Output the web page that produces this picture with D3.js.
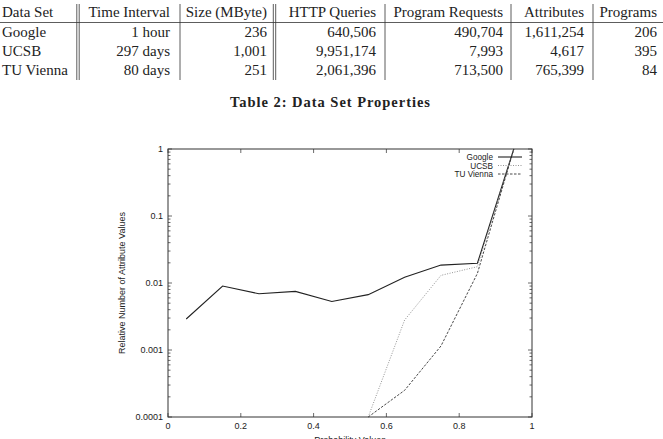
<!DOCTYPE html>
<html lang="en">
<head>
  <meta charset="UTF-8">
  <title>Data Set Properties</title>
  <script src="https://d3js.org/d3.v7.min.js"></script>
  <style>
    html, body { margin: 0; padding: 0; background: #fff; }
    .cell { font-family: "Liberation Serif", serif; font-size: 15px; fill: #222; }
    .caption { font-family: "Liberation Serif", serif; font-size: 14.5px; font-weight: bold; fill: #222; }
    .tick-label, .axis-title { font-family: "Liberation Sans", Arial, sans-serif; font-size: 9px; fill: #222; }
    .legend text { font-family: "Liberation Sans", Arial, sans-serif; font-size: 8.2px; fill: #222; }
  </style>
</head>
<body>
  <div id="chart"></div>
  <script>
    // Table contents
    const headers = ["Data Set", "Time Interval", "Size (MByte)", "HTTP Queries", "Program Requests", "Attributes", "Programs"];
    const dataSets = ["Google", "UCSB", "TU Vienna"];
    const timeIntervals = ["1 hour", "297 days", "80 days"];
    const sizes = ["236", "1,001", "251"];
    const httpQueries = ["640,506", "9,951,174", "2,061,396"];
    const programRequests = ["490,704", "7,993", "713,500"];
    const attributes = ["1,611,254", "4,617", "765,399"];
    const programs = ["206", "395", "84"];

    // Plot data
    const probabilities = [0.05, 0.15, 0.25, 0.35, 0.45, 0.55, 0.65, 0.75, 0.85, 0.95];
    const google = [0.0029, 0.0090, 0.0069, 0.0075, 0.0053, 0.0067, 0.0122, 0.0185, 0.0197, 1];
    const ucsb = [null, null, null, null, null, 0.0001, 0.0028, 0.0130, 0.0175, 1];
    const tuVienna = [null, null, null, null, null, 0.0001, 0.00025, 0.00115, 0.0139, 1];
    const seriesNames = ["Google", "UCSB", "TU Vienna"];
    const xTicks = [0, 0.2, 0.4, 0.6, 0.8, 1];
    const yTicks = [0.0001, 0.001, 0.01, 0.1, 1];

    const width = 663;
    const height = 439;

    const svg = d3.select("#chart")
      .append("svg")
      .attr("width", width)
      .attr("height", height);

    // ---- Table ----
    const colRight = [null, 170, 267, 376, 503, 584, 657];
    const colLeft = 2;
    const rowY = [17, 37, 56, 75];
    const singleLines = [180, 385, 511, 593];
    const doubleLines = [78, 274.5];
    const columns = [dataSets, timeIntervals, sizes, httpQueries, programRequests, attributes, programs];

    const table = svg.append("g");
    headers.forEach((h, i) => {
      table.append("text")
        .attr("class", "cell")
        .attr("x", i === 0 ? colLeft : colRight[i])
        .attr("y", rowY[0])
        .attr("text-anchor", i === 0 ? "start" : "end")
        .text(h);
    });
    columns.forEach((col, i) => {
      col.forEach((v, r) => {
        table.append("text")
          .attr("class", "cell")
          .attr("x", i === 0 ? colLeft : colRight[i])
          .attr("y", rowY[r + 1])
          .attr("text-anchor", i === 0 ? "start" : "end")
          .text(v);
      });
    });
    table.append("line")
      .attr("x1", 0).attr("x2", 663)
      .attr("y1", 22.5).attr("y2", 22.5)
      .attr("stroke", "#333").attr("stroke-width", 0.8);
    singleLines.forEach(x => {
      table.append("line")
        .attr("x1", x).attr("x2", x).attr("y1", 4).attr("y2", 80)
        .attr("stroke", "#333").attr("stroke-width", 0.8);
    });
    doubleLines.forEach(x => {
      [x - 1.2, x + 1.2].forEach(xx => {
        table.append("line")
          .attr("x1", xx).attr("x2", xx).attr("y1", 4).attr("y2", 80)
          .attr("stroke", "#333").attr("stroke-width", 0.8);
      });
    });
    table.append("text")
      .attr("class", "caption")
      .attr("x", 330)
      .attr("y", 107)
      .attr("text-anchor", "middle")
      .attr("textLength", 200)
      .attr("lengthAdjust", "spacing")
      .text("Table 2:  Data Set Properties");

    // ---- Plot ----
    const margin = { left: 168, right: 532, top: 149, bottom: 417 };

    const xScale = d3.scaleLinear().domain([0, 1]).range([margin.left, margin.right]);
    const yScale = d3.scaleLog().domain([0.0001, 1]).range([margin.bottom, margin.top]);

    const plot = svg.append("g");

    // Ticks (inward, on all sides)
    const minorY = [];
    for (let e = -4; e < 0; e++) {
      for (let m = 2; m <= 9; m++) minorY.push(m * Math.pow(10, e));
    }
    minorY.forEach(v => {
      [[margin.left, 2.5], [margin.right, -2.5]].forEach(([x, d]) => {
        plot.append("line")
          .attr("x1", x).attr("x2", x + d)
          .attr("y1", yScale(v)).attr("y2", yScale(v))
          .attr("stroke", "#444").attr("stroke-width", 0.8);
      });
    });
    yTicks.forEach(v => {
      [[margin.left, 4], [margin.right, -4]].forEach(([x, d]) => {
        plot.append("line")
          .attr("x1", x).attr("x2", x + d)
          .attr("y1", yScale(v)).attr("y2", yScale(v))
          .attr("stroke", "#444").attr("stroke-width", 0.8);
      });
      plot.append("text")
        .attr("class", "tick-label")
        .attr("x", margin.left - 5)
        .attr("y", yScale(v) + 3)
        .attr("text-anchor", "end")
        .text(v === 0.0001 ? "0.0001" : String(v));
    });
    xTicks.forEach(v => {
      [[margin.bottom, -4], [margin.top, 4]].forEach(([y, d]) => {
        plot.append("line")
          .attr("x1", xScale(v)).attr("x2", xScale(v))
          .attr("y1", y).attr("y2", y + d)
          .attr("stroke", "#444").attr("stroke-width", 0.8);
      });
      plot.append("text")
        .attr("class", "tick-label")
        .attr("x", xScale(v))
        .attr("y", margin.bottom + 12)
        .attr("text-anchor", "middle")
        .text(String(v));
    });

    // Frame
    plot.append("rect")
      .attr("x", margin.left).attr("y", margin.top)
      .attr("width", margin.right - margin.left)
      .attr("height", margin.bottom - margin.top)
      .attr("fill", "none").attr("stroke", "#333").attr("stroke-width", 1);

    // Axis titles
    plot.append("text")
      .attr("class", "axis-title")
      .attr("transform", `translate(125, ${(margin.top + margin.bottom) / 2}) rotate(-90)`)
      .attr("text-anchor", "middle")
      .text("Relative Number of Attribute Values");
    plot.append("text")
      .attr("class", "axis-title")
      .attr("x", (margin.left + margin.right) / 2)
      .attr("y", 442.5)
      .attr("text-anchor", "middle")
      .text("Probability Values");

    // Lines
    const seriesValues = [google, ucsb, tuVienna];
    const seriesStyles = [
      { stroke: "#222", width: 1.1, dash: null },
      { stroke: "#888", width: 0.9, dash: "1,1.5" },
      { stroke: "#333", width: 0.9, dash: "2.5,1.5" }
    ];
    const line = d3.line()
      .defined(d => d[1] !== null)
      .x(d => xScale(d[0]))
      .y(d => yScale(d[1]));

    seriesValues.forEach((vals, i) => {
      const pts = probabilities.map((p, j) => [p, vals[j]]);
      plot.append("path")
        .datum(pts)
        .attr("d", line)
        .attr("fill", "none")
        .attr("stroke", seriesStyles[i].stroke)
        .attr("stroke-width", seriesStyles[i].width)
        .attr("stroke-dasharray", seriesStyles[i].dash);
    });

    // Legend
    const legend = plot.append("g").attr("class", "legend");
    seriesNames.forEach((name, i) => {
      const y = 157 + i * 8.5;
      legend.append("text")
        .attr("x", 493)
        .attr("y", y + 3)
        .attr("text-anchor", "end")
        .text(name);
      legend.append("line")
        .attr("x1", 498).attr("x2", 522)
        .attr("y1", y).attr("y2", y)
        .attr("stroke", seriesStyles[i].stroke)
        .attr("stroke-width", seriesStyles[i].width)
        .attr("stroke-dasharray", seriesStyles[i].dash);
    });
  </script>
</body>
</html>
